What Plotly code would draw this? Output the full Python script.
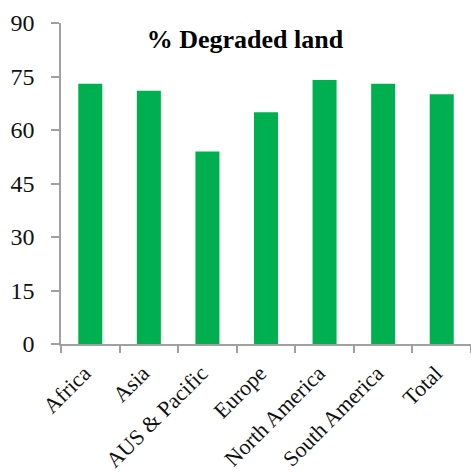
import plotly.graph_objects as go

categories = ["Africa", "Asia", "AUS & Pacific", "Europe", "North America", "South America", "Total"]
values = [73, 71, 54, 65, 74, 73, 70]
y_ticks = [0, 15, 30, 45, 60, 75, 90]

fig = go.Figure(go.Bar(x=categories, y=values, marker=dict(color="#00B050", line=dict(width=0))))

axis_color = "#A0A0A0"
font_family = "Liberation Serif"

fig.update_layout(
    width=471, height=472,
    margin=dict(l=61, r=0, t=23, b=128),
    paper_bgcolor="white", plot_bgcolor="white",
    bargap=0.59,
    showlegend=False,
    font=dict(family=font_family, color="black"),
    title=dict(text="<b>% Degraded land</b>", x=0.52, xanchor="center", y=0.918, yanchor="middle",
               font=dict(family=font_family, size=26, color="black")),
)
fig.update_yaxes(range=[0, 90], tickvals=y_ticks, showgrid=False, zeroline=False,
                 showline=True, linecolor=axis_color, linewidth=1.5,
                 ticks="outside", ticklen=8, tickcolor=axis_color, tickwidth=1.5,
                 tickfont=dict(family=font_family, size=24, color="#111111"),
                 ticklabelstandoff=12)
fig.update_xaxes(range=[-0.5, 6.5], showgrid=False, showline=True, linecolor=axis_color, linewidth=1.5,
                 ticks="outside", tickson="boundaries", ticklen=7, tickcolor=axis_color, tickwidth=1.5,
                 tickangle=-45, ticklabelshift=-6, ticklabelstandoff=6,
                 tickfont=dict(family=font_family, size=22, color="#111111"))

fig.write_html("out.html")
